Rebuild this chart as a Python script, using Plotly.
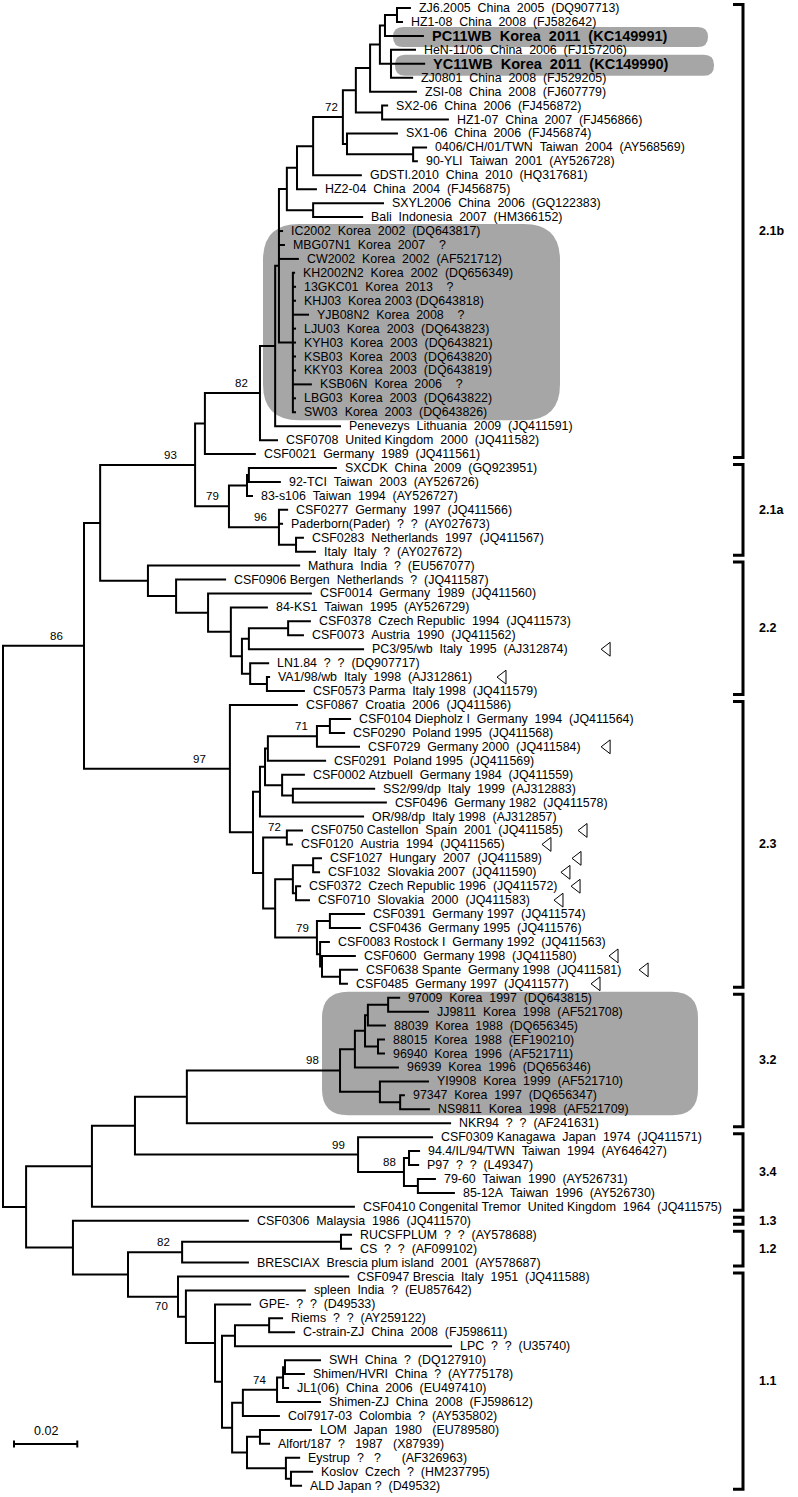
import plotly.graph_objects as go

# ---------------- data ----------------
leaf_labels = [
    "ZJ6.2005  China  2005  (DQ907713)",
    "HZ1-08  China  2008  (FJ582642)",
    "PC11WB  Korea  2011  (KC149991)",
    "HeN-11/06  China  2006  (FJ157206)",
    "YC11WB  Korea  2011  (KC149990)",
    "ZJ0801  China  2008  (FJ529205)",
    "ZSI-08  China  2008  (FJ607779)",
    "SX2-06  China  2006  (FJ456872)",
    "HZ1-07  China  2007  (FJ456866)",
    "SX1-06  China  2006  (FJ456874)",
    "0406/CH/01/TWN  Taiwan  2004  (AY568569)",
    "90-YLI  Taiwan  2001  (AY526728)",
    "GDSTI.2010  China  2010  (HQ317681)",
    "HZ2-04  China  2004  (FJ456875)",
    "SXYL2006  China  2006  (GQ122383)",
    "Bali  Indonesia  2007  (HM366152)",
    "IC2002  Korea  2002  (DQ643817)",
    "MBG07N1  Korea  2007    ?",
    "CW2002  Korea  2002  (AF521712)",
    "KH2002N2  Korea  2002  (DQ656349)",
    "13GKC01  Korea  2013    ?",
    "KHJ03  Korea 2003 (DQ643818)",
    "YJB08N2  Korea  2008    ?",
    "LJU03  Korea  2003  (DQ643823)",
    "KYH03  Korea  2003  (DQ643821)",
    "KSB03  Korea  2003  (DQ643820)",
    "KKY03  Korea  2003  (DQ643819)",
    "KSB06N  Korea  2006    ?",
    "LBG03  Korea  2003  (DQ643822)",
    "SW03  Korea  2003  (DQ643826)",
    "Penevezys  Lithuania  2009  (JQ411591)",
    "CSF0708  United Kingdom  2000  (JQ411582)",
    "CSF0021  Germany  1989  (JQ411561)",
    "SXCDK  China  2009  (GQ923951)",
    "92-TCI  Taiwan  2003  (AY526726)",
    "83-s106  Taiwan  1994  (AY526727)",
    "CSF0277  Germany  1997  (JQ411566)",
    "Paderborn(Pader)  ?  ?  (AY027673)",
    "CSF0283  Netherlands  1997  (JQ411567)",
    "Italy  Italy  ?  (AY027672)",
    "Mathura  India  ?  (EU567077)",
    "CSF0906 Bergen  Netherlands  ?  (JQ411587)",
    "CSF0014  Germany  1989  (JQ411560)",
    "84-KS1  Taiwan  1995  (AY526729)",
    "CSF0378  Czech Republic  1994  (JQ411573)",
    "CSF0073  Austria  1990  (JQ411562)",
    "PC3/95/wb  Italy  1995  (AJ312874)",
    "LN1.84  ?  ?  (DQ907717)",
    "VA1/98/wb  Italy  1998  (AJ312861)",
    "CSF0573 Parma  Italy 1998  (JQ411579)",
    "CSF0867  Croatia  2006  (JQ411586)",
    "CSF0104 Diepholz I  Germany  1994  (JQ411564)",
    "CSF0290  Poland 1995  (JQ411568)",
    "CSF0729  Germany 2000  (JQ411584)",
    "CSF0291  Poland 1995  (JQ411569)",
    "CSF0002 Atzbuell  Germany 1984  (JQ411559)",
    "SS2/99/dp  Italy  1999  (AJ312883)",
    "CSF0496  Germany 1982  (JQ411578)",
    "OR/98/dp  Italy 1998  (AJ312857)",
    "CSF0750 Castellon  Spain  2001  (JQ411585)",
    "CSF0120  Austria  1994  (JQ411565)",
    "CSF1027  Hungary  2007  (JQ411589)",
    "CSF1032  Slovakia 2007  (JQ411590)",
    "CSF0372  Czech Republic 1996  (JQ411572)",
    "CSF0710  Slovakia  2000  (JQ411583)",
    "CSF0391  Germany 1997  (JQ411574)",
    "CSF0436  Germany 1995  (JQ411576)",
    "CSF0083 Rostock I  Germany 1992  (JQ411563)",
    "CSF0600  Germany 1998  (JQ411580)",
    "CSF0638 Spante  Germany 1998  (JQ411581)",
    "CSF0485  Germany 1997  (JQ411577)",
    "97009  Korea  1997  (DQ643815)",
    "JJ9811  Korea  1998  (AF521708)",
    "88039  Korea  1988  (DQ656345)",
    "88015  Korea  1988  (EF190210)",
    "96940  Korea  1996  (AF521711)",
    "96939  Korea  1996  (DQ656346)",
    "YI9908  Korea  1999  (AF521710)",
    "97347  Korea  1997  (DQ656347)",
    "NS9811  Korea  1998  (AF521709)",
    "NKR94  ?  ?  (AF241631)",
    "CSF0309 Kanagawa  Japan  1974  (JQ411571)",
    "94.4/IL/94/TWN  Taiwan  1994  (AY646427)",
    "P97  ?  ?  (L49347)",
    "79-60  Taiwan  1990  (AY526731)",
    "85-12A  Taiwan  1996  (AY526730)",
    "CSF0410 Congenital Tremor  United Kingdom  1964  (JQ411575)",
    "CSF0306  Malaysia  1986  (JQ411570)",
    "RUCSFPLUM  ?  ?  (AY578688)",
    "CS  ?  ?  (AF099102)",
    "BRESCIAX  Brescia plum island  2001  (AY578687)",
    "CSF0947 Brescia  Italy  1951  (JQ411588)",
    "spleen  India  ?  (EU857642)",
    "GPE-  ?  ?  (D49533)",
    "Riems  ?  ?  (AY259122)",
    "C-strain-ZJ  China  2008  (FJ598611)",
    "LPC  ?  ?  (U35740)",
    "SWH  China  ?  (DQ127910)",
    "Shimen/HVRI  China  ?  (AY775178)",
    "JL1(06)  China  2006  (EU497410)",
    "Shimen-ZJ  China  2008  (FJ598612)",
    "Col7917-03  Colombia  ?  (AY535802)",
    "LOM  Japan  1980   (EU789580)",
    "Alfort/187  ?   1987   (X87939)",
    "Eystrup  ?   ?      (AF326963)",
    "Koslov  Czech  ?  (HM237795)",
    "ALD Japan ?  (D49532)",
]

leaf_parent = [
    "Nzj", "Nzj", "Npc", "Nyc", "Nyc", "Nyc", "N370", "N382", "N382", "N347",
    "N413", "N413", "N313", "N297", "Nsx", "Nsx", "X279", "X279", "X279",
    "Comb", "Comb", "Comb", "Comb", "Comb", "Comb", "Comb", "Comb", "Comb", "Comb", "Comb",
    "N275", "B82a", "N205", "Nsx2", "Nsx2", "Nsx1", "B96", "B96", "NI", "NI",
    "N148", "N176", "N208", "N230", "NC", "NC", "N249", "N250", "NV", "NV",
    "B97", "NdP", "NdP", "B71", "NG", "NH", "NH2", "NH2", "NE", "B72b", "B72b",
    "NHu", "NHu", "NF4", "NF4", "NK", "NK", "NL1", "NL2", "NM", "NM",
    "N388", "N388", "N368", "N378", "N378", "N355", "N380k", "N400", "N400", "N187",
    "B99", "NP", "NP", "NT", "NT", "N92", "N73", "NRU", "NRU", "B82b",
    "B70", "N186", "N215", "NRi", "NRi", "N235", "NS1", "NS1", "NS2", "B74",
    "N243", "NLO", "NLO", "N286", "N291", "N291",
]

# distance from the root (substitutions per site) at the tip of each leaf
leaf_depth = [
    0.1289, 0.1264, 0.1330, 0.1305, 0.1334, 0.1296, 0.1308, 0.1217, 0.1409, 0.1248,
    0.1340, 0.1311, 0.1134, 0.0992, 0.1204, 0.1138, 0.0885, 0.0891, 0.0935,
    0.0923, 0.0926, 0.0926, 0.0967, 0.0926, 0.0926, 0.0926, 0.0926, 0.0976, 0.0926, 0.0926,
    0.1068, 0.0869, 0.0799, 0.1055, 0.0878, 0.0790, 0.0901, 0.0885, 0.0951, 0.0989,
    0.0939, 0.0705, 0.0976, 0.0837, 0.0973, 0.0951, 0.1141, 0.0841, 0.0844, 0.0954,
    0.0932, 0.1100, 0.1081, 0.1128, 0.1021, 0.0954, 0.1176, 0.1213, 0.1141, 0.0948, 0.0916,
    0.1008, 0.1002, 0.0942, 0.0970, 0.1144, 0.1131, 0.1033, 0.1115, 0.1122, 0.1090,
    0.1255, 0.1346, 0.1210, 0.1207, 0.1207, 0.1251, 0.1346, 0.1270, 0.1349, 0.1416,
    0.1359, 0.1318, 0.1315, 0.1368, 0.1428, 0.1112, 0.0777, 0.1103, 0.1103, 0.0777,
    0.1094, 0.0957, 0.0784, 0.0885, 0.0923, 0.1419, 0.1005, 0.0954, 0.0904, 0.1005,
    0.0875, 0.0976, 0.0844, 0.0939, 0.0980, 0.0945,
]

node_ids = [
    "R", "A86", "N100", "B93", "N205", "B82a", "N275", "X279", "N287", "N297",
    "N313", "B72a", "N356", "N370", "N380", "Npc", "Nzj", "Nyc", "N382", "N347",
    "N413", "Nsx", "Comb", "B79a", "Nsx1", "Nsx2", "B96", "NI", "N148", "N176",
    "N208", "N230", "N242", "N249", "NC", "N250", "NV", "B97", "ND", "NE",
    "NE1", "NG", "B71", "NdP", "NH", "NH2", "NF", "B72b", "NF2", "NF3",
    "NHu", "NF4", "B79b", "NK", "NL1", "NL2", "NM", "N26", "N92", "N135",
    "N187", "B98", "N355", "N365", "N368", "N388", "N378", "N380k", "N400", "B99",
    "B88", "NP", "NT", "N73", "N128", "B82b", "NRU", "B70", "N186", "N215",
    "N222", "N235", "NRi", "N232", "N243", "B74", "NS2", "NS1", "N247", "NLO",
    "N286", "N291",
]
node_parent = [
    None, "R", "A86", "N100", "B93", "N205", "B82a", "N275", "X279", "N287",
    "N297", "N313", "B72a", "N356", "N370", "N380", "Npc", "N380", "N356", "B72a",
    "N347", "N287", "X279", "B93", "B79a", "Nsx1", "B79a", "B96", "N100", "N148",
    "N176", "N208", "N230", "N242", "N249", "N242", "N250", "A86", "B97", "ND",
    "NE", "NE1", "NG", "B71", "NE1", "NH", "ND", "NF", "NF", "NF2",
    "NF3", "NF3", "NF2", "B79b", "B79b", "NL1", "NL2", "R", "N26", "N92",
    "N135", "N187", "B98", "N355", "N365", "N368", "N365", "B98", "N380k", "N135",
    "B99", "B88", "B88", "N26", "N73", "N128", "B82b", "N128", "B70", "N186",
    "N215", "N222", "N235", "N222", "N232", "N243", "B74", "NS2", "N232", "N247",
    "N247", "N286",
]
node_depth = [
    0.0000, 0.0256, 0.0307, 0.0607, 0.0638, 0.0812, 0.0860, 0.0872, 0.0897, 0.0929,
    0.0980, 0.1074, 0.1115, 0.1160, 0.1191, 0.1207, 0.1245, 0.1226, 0.1198, 0.1087,
    0.1296, 0.0980, 0.0916, 0.0714, 0.0771, 0.0777, 0.0872, 0.0926, 0.0458, 0.0547,
    0.0648, 0.0720, 0.0755, 0.0777, 0.0901, 0.0781, 0.0834, 0.0717, 0.0790, 0.0812,
    0.0828, 0.0837, 0.0992, 0.1033, 0.0882, 0.0916, 0.0822, 0.0897, 0.0860, 0.0916,
    0.0980, 0.0926, 0.0992, 0.1033, 0.1002, 0.1008, 0.1065, 0.0073, 0.0281, 0.0417,
    0.0581, 0.1065, 0.1112, 0.1144, 0.1153, 0.1217, 0.1185, 0.1191, 0.1255, 0.1122,
    0.1267, 0.1283, 0.1311, 0.0221, 0.0395, 0.0566, 0.1068, 0.0553, 0.0578, 0.0670,
    0.0692, 0.0733, 0.0841, 0.0724, 0.0758, 0.0866, 0.0885, 0.0891, 0.0771, 0.0812,
    0.0894, 0.0910,
]

boot_nodes = ["B72a", "B82a", "B93", "B79a", "B96", "A86", "B97", "B71",
              "B72b", "B79b", "B98", "B99", "B88", "B82b", "B70", "B74"]
boot_values = [72, 82, 93, 79, 96, 86, 97, 71, 72, 79, 98, 99, 88, 82, 70, 74]
boot_below = ["B70"]

clade_names = ["2.1b", "2.1a", "2.2", "2.3", "3.2", "3.4", "1.3", "1.2", "1.1"]
clade_first = [0, 33, 40, 50, 71, 81, 87, 88, 91]
clade_last = [32, 39, 49, 70, 80, 86, 87, 90, 106]

highlight_first = [2, 4, 16, 71]
highlight_last = [2, 4, 29, 79]

bold_leaves = [2, 4]

triangle_leaves = [46, 48, 53, 59, 60, 61, 62, 63, 64, 68, 69, 70]
triangle_x = [0.1909, 0.1580, 0.1909, 0.1836, 0.1722, 0.1817,
              0.1782, 0.1814, 0.1760, 0.1934, 0.2029, 0.1877]

scale_length = 0.02

# ---------------- layout helpers (style) ----------------
W, H = 798, 1497
PX_PER_UNIT = 3164.6
X_ORIGIN_PX = 3.0
ROW_PX = 13.94
Y_ORIGIN_PX = 8.0
FONT = "Liberation Sans, Arial, sans-serif"
LEAF_FONT = 12.4
BOLD_FONT = 14.5
# horizontal gap (px) between each support value and its node, as laid out in the figure
BOOT_GAP_PX = [5, 12, 18, 10, 12, 21, 24, 9, 6, 8, 21, 13, 8, 12, 10, 11]


def xd(px):
    return (px - X_ORIGIN_PX) / PX_PER_UNIT


def yd(py):
    return (py - Y_ORIGIN_PX) / ROW_PX


def dpx(n):
    return n / PX_PER_UNIT


def dpy(n):
    return n / ROW_PX


# ---------------- tree geometry ----------------
children = {nid: [] for nid in node_ids}
for i, p in enumerate(leaf_parent):
    children[p].append(("L", i))
for nid, p in zip(node_ids, node_parent):
    if p is not None:
        children[p].append(("N", nid))
depth = dict(zip(node_ids, node_depth))
ypos = {}


def gety(item):
    kind, key = item
    if kind == "L":
        return float(key)
    if key not in ypos:
        ys = [gety(c) for c in children[key]]
        ypos[key] = (min(ys) + max(ys)) / 2.0
    return ypos[key]


def getx(item):
    return leaf_depth[item[1]] if item[0] == "L" else depth[item[1]]


lx, ly = [], []
for nid in node_ids:
    ch = sorted(children[nid], key=gety)
    x0 = depth[nid]
    f, l = ch[0], ch[-1]
    lx += [getx(f), x0, x0, getx(l), None]
    ly += [gety(f), gety(f), gety(l), gety(l), None]
    for c in ch[1:-1]:
        lx += [x0, getx(c), None]
        ly += [gety(c), gety(c), None]

fig = go.Figure()
fig.add_trace(go.Scatter(x=lx, y=ly, mode="lines",
                         line=dict(color="black", width=2),
                         hoverinfo="skip", showlegend=False))

fig.add_trace(go.Scatter(x=triangle_x, y=triangle_leaves, mode="markers",
                         marker=dict(symbol="triangle-left-open", size=12,
                                     color="black", line=dict(width=1, color="black")),
                         hoverinfo="skip", showlegend=False))

shapes = []


def rrect(px0, px1, y0, y1, r):
    X0, X1 = xd(px0), xd(px1)
    rx, ry = dpx(r), dpy(r)
    return (f"M {X0+rx},{y0} L {X1-rx},{y0} Q {X1},{y0} {X1},{y0+ry} "
            f"L {X1},{y1-ry} Q {X1},{y1} {X1-rx},{y1} L {X0+rx},{y1} "
            f"Q {X0},{y1} {X0},{y1-ry} L {X0},{y0+ry} Q {X0},{y0} {X0+rx},{y0} Z")


box_style = [  # left px, right px, pad top px, pad bottom px, radius px
    (393, 708, 9, 11, 10),
    (395, 714, 9, 12, 10),
    (263, 560, 7, 8, 36),
    (322, 698, 6, 6, 26),
]
for fi, la, st in zip(highlight_first, highlight_last, box_style):
    l, r, pt, pb, rad = st
    shapes.append(dict(type="path", path=rrect(l, r, fi - dpy(pt), la + dpy(pb), rad),
                       fillcolor="#a6a6a6", line=dict(width=0), layer="below",
                       xref="x", yref="y"))

BX, TX = xd(743), xd(733)
for name, fi, la in zip(clade_names, clade_first, clade_last):
    y0 = fi - dpy(3.5)
    y1 = la + dpy(3.5)
    shapes.append(dict(type="path",
                       path=f"M {TX},{y0} L {BX},{y0} L {BX},{y1} L {TX},{y1}",
                       line=dict(color="black", width=3), xref="x", yref="y"))

sb_x0 = xd(14)
sb_y = yd(1444)
shapes.append(dict(type="line", x0=sb_x0, x1=sb_x0 + scale_length, y0=sb_y, y1=sb_y,
                   line=dict(color="black", width=2), xref="x", yref="y"))
for xx in (sb_x0, sb_x0 + scale_length):
    shapes.append(dict(type="line", x0=xx, x1=xx, y0=sb_y - dpy(3.5), y1=sb_y + dpy(3.5),
                       line=dict(color="black", width=2), xref="x", yref="y"))

annotations = []
for i, lab in enumerate(leaf_labels):
    txt = lab.replace(" ", "\u00a0")
    size = LEAF_FONT
    if i in bold_leaves:
        txt = "<b>" + txt + "</b>"
        size = BOLD_FONT
    annotations.append(dict(x=leaf_depth[i], y=i, text=txt, xanchor="left",
                            yanchor="middle", xshift=6, showarrow=False,
                            font=dict(size=size, color="black", family=FONT)))

for nid, v, gap in zip(boot_nodes, boot_values, BOOT_GAP_PX):
    ys = -9 if nid in boot_below else 10
    annotations.append(dict(x=depth[nid], y=gety(("N", nid)), text=str(v),
                            xanchor="right", yanchor="middle", xshift=-gap + 2, yshift=ys,
                            showarrow=False,
                            font=dict(size=11.5, color="black", family=FONT)))

for name, fi, la in zip(clade_names, clade_first, clade_last):
    annotations.append(dict(x=xd(757), y=(fi + la) / 2.0, text="<b>" + name + "</b>",
                            xanchor="left", yanchor="middle", showarrow=False,
                            font=dict(size=12.5, color="black", family=FONT)))

annotations.append(dict(x=sb_x0 + scale_length / 2, y=yd(1431), text=str(scale_length),
                        xanchor="center", yanchor="middle", showarrow=False,
                        font=dict(size=12.5, color="black", family=FONT)))

fig.update_layout(
    width=W, height=H, autosize=False,
    margin=dict(l=0, r=0, t=0, b=0, pad=0),
    paper_bgcolor="white", plot_bgcolor="white",
    xaxis=dict(visible=False, range=[xd(0), xd(W)], fixedrange=True),
    yaxis=dict(visible=False, range=[yd(H), yd(0)], fixedrange=True),
    shapes=shapes, annotations=annotations, showlegend=False,
)

fig.write_html("out.html", config={"displayModeBar": False},
               post_script="document.body.style.margin='0';")
